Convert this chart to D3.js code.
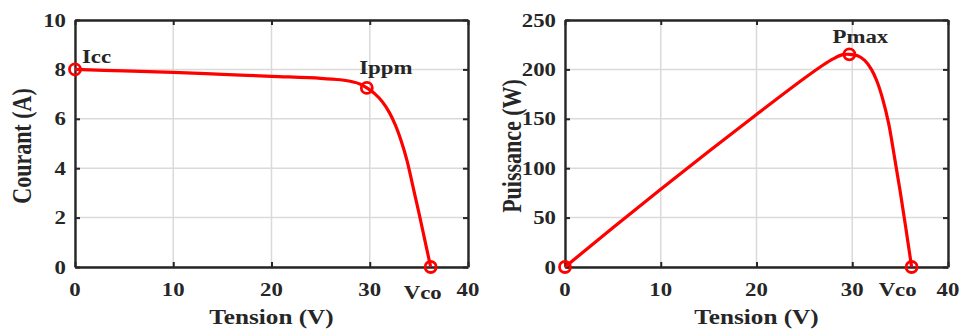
<!DOCTYPE html>
<html>
<head>
<meta charset="utf-8">
<script src="https://cdn.jsdelivr.net/npm/d3@7"></script>
<style>
  html, body { margin: 0; padding: 0; background: #ffffff; }
  svg { display: block; }
  text { font-family: 'Liberation Serif', 'Times New Roman', serif; font-weight: bold; fill: #262626; }
</style>
</head>
<body>
<svg id="chart" width="961" height="329"></svg>
<script>
// Values
const tension   = [0, 5, 10, 15, 20, 25, 27, 28, 29, 29.7, 30.5, 31.3, 32, 32.6, 33.2, 33.8, 34.4, 35, 35.6, 36.2];
const courant   = [8.0, 7.94, 7.88, 7.8, 7.72, 7.64, 7.58, 7.52, 7.41, 7.25, 7.02, 6.68, 6.25, 5.75, 5.1, 4.3, 3.25, 2.2, 1.1, 0];
const puissance = [0, 39.7, 78.8, 117, 154.4, 191, 204.7, 210.6, 214.9, 215.3, 214.1, 209.1, 200, 187.5, 169.3, 145.3, 111.8, 77, 39.2, 0];

const xTicks = [0, 10, 20, 30, 40];
const iTicks = [0, 2, 4, 6, 8, 10];
const pTicks = [0, 50, 100, 150, 200, 250];

// marked points: label, index into the arrays
const iMarks = [['Icc', 0], ['Ippm', 9], ['Vco', 19]];
const pMarks = [['', 0], ['Pmax', 9], ['Vco', 19]];

const svg = d3.select('#chart');
const stretch = 1.2;   // the source text is a bit wide
const plotTop = 20, plotBottom = 267;

function drawPanel(opts) {
    const x = d3.scaleLinear().domain([0, 40]).range([opts.left, opts.right]);
    const y = d3.scaleLinear().domain(opts.yDomain).range([plotBottom, plotTop]);
    const g = svg.append('g');

    // grid
    g.selectAll('.vgrid').data(xTicks).join('line')
        .attr('x1', d => x(d)).attr('x2', d => x(d))
        .attr('y1', plotTop).attr('y2', plotBottom)
        .attr('stroke', '#dadada').attr('stroke-width', 1.5);
    g.selectAll('.hgrid').data(opts.yTicks).join('line')
        .attr('x1', opts.left).attr('x2', opts.right)
        .attr('y1', d => y(d)).attr('y2', d => y(d))
        .attr('stroke', '#dadada').attr('stroke-width', 1.5);

    // axes with inward ticks on all four sides
    const axes = [
        [d3.axisBottom(x).tickValues(xTicks), `translate(0,${plotBottom})`],
        [d3.axisTop(x).tickValues(xTicks), `translate(0,${plotTop})`],
        [d3.axisLeft(y).tickValues(opts.yTicks), `translate(${opts.left},0)`],
        [d3.axisRight(y).tickValues(opts.yTicks), `translate(${opts.right},0)`]
    ];
    axes.forEach(([axis, tr]) => {
        const a = g.append('g').attr('transform', tr)
            .call(axis.tickSizeInner(-5).tickSizeOuter(0).tickFormat(''));
        a.select('.domain').attr('stroke', '#262626').attr('stroke-width', 2.4);
        a.selectAll('.tick line').attr('stroke', '#262626').attr('stroke-width', 2);
    });

    // tick labels
    g.selectAll('.xlab').data(xTicks).join('text')
        .attr('transform', d => `translate(${x(d)},289) scale(${stretch},1)`)
        .attr('text-anchor', 'middle').attr('dy', '0.35em')
        .style('font-size', '19px').text(d => d);
    g.selectAll('.ylab').data(opts.yTicks).join('text')
        .attr('transform', d => `translate(${opts.left - 9},${y(d)}) scale(${stretch},1)`)
        .attr('text-anchor', 'end').attr('dy', '0.35em')
        .style('font-size', '19px').text(d => d);

    // axis titles
    g.append('text')
        .attr('transform', `translate(${(opts.left + opts.right) / 2},317) scale(${stretch},1)`)
        .attr('text-anchor', 'middle').attr('dy', '0.35em')
        .style('font-size', '21px').text('Tension (V)');
    g.append('text')
        .attr('transform', `translate(${opts.left - 53},146) scale(${stretch},1) rotate(-90)`)
        .attr('text-anchor', 'middle').attr('dy', '0.35em')
        .style('font-size', '22px').text(opts.yTitle);

    // curve
    const line = d3.line()
        .x(d => x(d[0])).y(d => y(d[1]))
        .curve(d3.curveCatmullRom.alpha(0.5));
    g.append('path')
        .datum(d3.zip(tension, opts.values))
        .attr('d', line)
        .attr('fill', 'none').attr('stroke', '#ff0000').attr('stroke-width', 3.2);

    // markers and their labels
    g.selectAll('.mark').data(opts.marks).join('circle')
        .attr('cx', d => x(tension[d[1]])).attr('cy', d => y(opts.values[d[1]]))
        .attr('r', 5.5).attr('fill', 'none')
        .attr('stroke', '#ff0000').attr('stroke-width', 2.8);
    g.selectAll('.mlab').data(opts.marks.filter(d => d[0])).join('text')
        .attr('transform', d => {
            const off = opts.offsets[d[0]];
            return `translate(${x(tension[d[1]]) + off[0]},${y(opts.values[d[1]]) + off[1]}) scale(${stretch},1)`;
        })
        .attr('text-anchor', d => d[0] === 'Icc' ? 'start' : 'middle')
        .attr('dy', '0.35em')
        .style('font-size', '19px').text(d => d[0]);
}

drawPanel({
    left: 75, right: 468,
    yDomain: [0, 10], yTicks: iTicks, yTitle: 'Courant (A)',
    values: courant, marks: iMarks,
    offsets: { Icc: [7, -13], Ippm: [19, -21], Vco: [-8, 25] }
});

drawPanel({
    left: 565, right: 948,
    yDomain: [0, 250], yTicks: pTicks, yTitle: 'Puissance (W)',
    values: puissance, marks: pMarks,
    offsets: { Pmax: [11, -18], Vco: [-14, 22] }
});
</script>
</body>
</html>
